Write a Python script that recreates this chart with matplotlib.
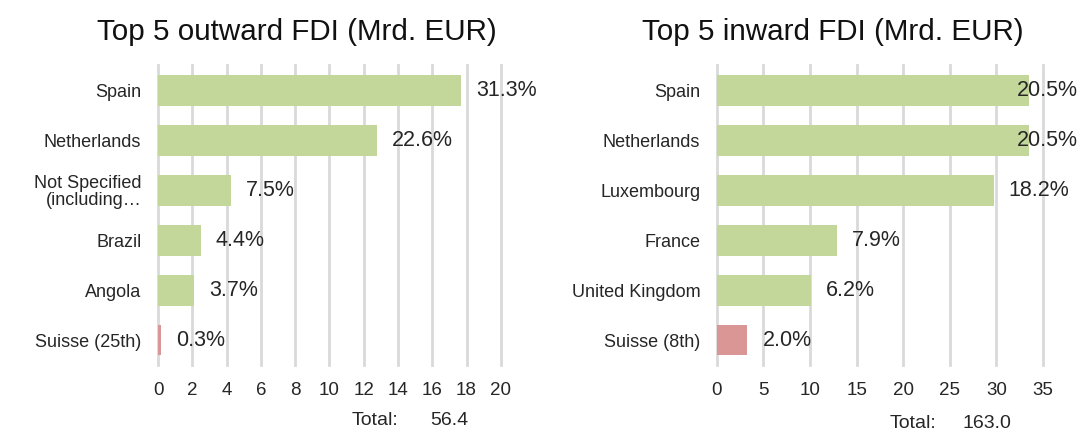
import matplotlib.pyplot as plt

plt.rcParams['font.family'] = ['Liberation Sans', 'DejaVu Sans']

# outward FDI, Mrd. EUR
out_countries = ['Spain', 'Netherlands', 'Not Specified\n(including…', 'Brazil', 'Angola', 'Suisse (25th)']
out_values = [17.65, 12.75, 4.23, 2.48, 2.09, 0.17]
out_shares = ['31.3%', '22.6%', '7.5%', '4.4%', '3.7%', '0.3%']
out_total = '56.4'

# inward FDI, Mrd. EUR
in_countries = ['Spain', 'Netherlands', 'Luxembourg', 'France', 'United Kingdom', 'Suisse (8th)']
in_values = [33.45, 33.45, 29.7, 12.9, 10.1, 3.26]
in_shares = ['20.5%', '20.5%', '18.2%', '7.9%', '6.2%', '2.0%']
in_total = '163.0'

green = '#c4d79b'
red = '#da9694'
txt = '#262626'

fig = plt.figure(figsize=(10.78, 4.34), dpi=100)


def draw(rect, names, vals, shares, xmax, step, title, title_x, total, total_x, total_gap, total_y):
    ax = fig.add_axes(rect)
    colors = [green] * (len(vals) - 1) + [red]
    ypos = range(len(vals))
    ax.barh(ypos, vals, height=0.62, color=colors, zorder=3)
    ax.set_ylim(len(vals) - 0.5, -0.5)
    ax.set_xlim(0, xmax)
    ax.set_xticks(range(0, xmax + 1, step))
    ax.set_yticks(list(ypos))
    ax.set_yticklabels(names, fontsize=13, color=txt, linespacing=1.0)
    ax.tick_params(axis='both', length=0, colors=txt)
    ax.tick_params(axis='y', pad=12, labelsize=13)
    ax.tick_params(axis='x', pad=12, labelsize=13.5)
    ax.grid(axis='x', color='#d9d9d9', linewidth=2, zorder=0)
    for g in ax.get_xgridlines():
        g.set_clip_on(False)
    for s in ax.spines.values():
        s.set_visible(False)
    # labels outside bar end, pushed back inside the figure if too long
    fig.canvas.draw()
    r = fig.canvas.get_renderer()
    for y, v, s in zip(ypos, vals, shares):
        t = ax.annotate(s, (v, y), xytext=(11, 0), textcoords='offset points',
                        va='center', ha='left', fontsize=15.5, color=txt, zorder=4)
        bb = t.get_window_extent(r)
        if bb.x1 > fig.bbox.width:
            t.set_position((11 - (bb.x1 - fig.bbox.width) * 72 / fig.dpi, 0))
    fig.text(title_x, 0.926, title, ha='center', va='center', fontsize=21.3, color='#111111')
    fig.text(total_x, total_y, 'Total:', ha='left', va='center', fontsize=14, color=txt)
    fig.text(total_x + total_gap, total_y, total, ha='left', va='center', fontsize=14, color=txt)
    return ax


draw([0.1466, 0.159, 0.318, 0.691], out_countries, out_values, out_shares, 20, 2,
     'Top 5 outward FDI (Mrd. EUR)', 0.2755, out_total, 0.3265, 0.0725, 0.030)
draw([0.665, 0.159, 0.3025, 0.691], in_countries, in_values, in_shares, 35, 5,
     'Top 5 inward FDI (Mrd. EUR)', 0.7725, in_total, 0.8256, 0.0668, 0.025)

fig.savefig('out.png', dpi=100)
